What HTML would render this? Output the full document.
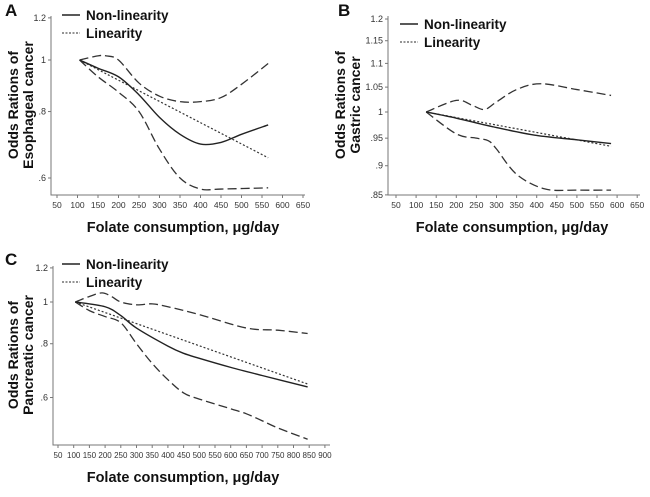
<!DOCTYPE html>
<html><head><meta charset="utf-8"><style>
body{margin:0;background:#fff;width:650px;height:492px;overflow:hidden;font-family:"Liberation Sans",Arial,sans-serif}
svg text{font-family:"Liberation Sans",Arial,sans-serif}
</style></head><body>
<svg id="s" width="650" height="492" xmlns="http://www.w3.org/2000/svg"></svg>
<script>
// Panel A data
const aX=[105,150,200,250,300,350,400,450,500,565];
const aNon=[1,0.965,0.93,0.86,0.78,0.725,0.695,0.7,0.725,0.755];
const aUpX=[105,150,170,200,250,300,350,400,450,500,565];
const aUp=[1,1.018,1.018,1.0,0.905,0.855,0.835,0.835,0.85,0.9,0.985];
const aLoX=[105,150,200,250,300,350,400,450,565];
const aLo=[1,0.93,0.87,0.8,0.68,0.6,0.572,0.572,0.575];
const aLinX=[105,565];const aLin=[1,0.655];
// Panel B data
const bX=[125,200,300,400,500,585];
const bNon=[1,0.988,0.97,0.955,0.947,0.94];
const bUpX=[125,200,240,270,300,350,410,500,585];
const bUp=[1,1.023,1.013,1.005,1.02,1.045,1.057,1.045,1.033];
const bLoX=[125,200,250,280,300,350,420,500,585];
const bLo=[1,0.958,0.95,0.945,0.93,0.885,0.86,0.858,0.858];
const bLinX=[125,585];const bLin=[1,0.935];
// Panel C data
const cX=[105,200,250,300,400,450,500,600,700,845];
const cNon=[1,0.975,0.93,0.87,0.79,0.76,0.74,0.705,0.675,0.635];
const cUpX=[105,150,190,220,250,300,350,400,500,650,750,845];
const cUp=[1,1.03,1.05,1.03,1.0,0.985,0.99,0.975,0.935,0.87,0.86,0.845];
const cLoX=[105,150,200,250,300,350,400,450,500,600,650,700,750,845];
const cLo=[1,0.955,0.925,0.895,0.8,0.72,0.66,0.615,0.595,0.565,0.55,0.53,0.51,0.48];
const cLinX=[105,845];const cLin=[1,0.645];
const aYt=[1.2,1,0.8,0.6],aYl=["1.2","1",".8",".6"];
const bYt=[1.2,1.15,1.1,1.05,1,0.95,0.9,0.85],bYl=["1.2","1.15","1.1","1.05","1",".95",".9",".85"];
const cYt=[1.2,1,0.8,0.6],cYl=["1.2","1",".8",".6"];
const aXt=[50,100,150,200,250,300,350,400,450,500,550,600,650];
const cXt=[50,100,150,200,250,300,350,400,450,500,550,600,650,700,750,800,850,900];

const S=document.getElementById('s');const NS="http://www.w3.org/2000/svg";
function el(t,a,p){const e=document.createElementNS(NS,t);for(const k in a)e.setAttribute(k,a[k]);(p||S).appendChild(e);return e;}
function smooth(pts){let d="M"+pts[0][0]+","+pts[0][1];for(let i=0;i<pts.length-1;i++){const p0=pts[i-1]||pts[i],p1=pts[i],p2=pts[i+1],p3=pts[i+2]||p2;
d+=" C"+(p1[0]+(p2[0]-p0[0])/6)+","+(p1[1]+(p2[1]-p0[1])/6)+" "+(p2[0]-(p3[0]-p1[0])/6)+","+(p2[1]-(p3[1]-p1[1])/6)+" "+p2[0]+","+p2[1];}return d;}
function panel(P){
 const g=el('g',{});
 const X=v=>P.x0+(v-50)*P.xs, Y=v=>P.y1+P.k*Math.log(1/v);
 const ax=el('path',{d:`M${P.ax},${P.top} V${P.bot} H${P.right}`,stroke:'#777',fill:'none','stroke-width':1},g);
 
 P.yt.forEach((v,i)=>{el('line',{x1:P.ax-3,x2:P.ax,y1:Y(v),y2:Y(v),stroke:'#777'},g);
  const t=el('text',{x:P.ax-5,y:Y(v)+3,'text-anchor':'end','font-size':9,fill:'#333'},g);t.textContent=P.yl[i];
  });
 P.xt.forEach(v=>{el('line',{x1:X(v),x2:X(v),y1:P.bot,y2:P.bot+3,stroke:'#777'},g);
  const t=el('text',{x:X(v),y:P.bot+13,'text-anchor':'middle','font-size':P.xf,fill:'#333'},g);t.textContent=v;
  });
 const line=(xs,ys,st,nm)=>{const p=el('path',Object.assign({d:smooth(xs.map((x,i)=>[X(x),Y(ys[i])])),fill:'none'},st),g);
  };
 line(P.upX,P.up,{stroke:'#333','stroke-width':1.3,'stroke-dasharray':'9,4'},'upper-ci-line');
 line(P.loX,P.lo,{stroke:'#333','stroke-width':1.3,'stroke-dasharray':'9,4'},'lower-ci-line');
 line(P.linX,P.lin,{stroke:'#333','stroke-width':1.2,'stroke-dasharray':'2,2'},'linearity-line');
 line(P.nx,P.non,{stroke:'#222','stroke-width':1.4},'non-linearity-line');
 const L=P.leg;
 el('line',{x1:L[0],x2:L[0]+18,y1:L[1],y2:L[1],stroke:'#222','stroke-width':1.4},g);
 el('line',{x1:L[0],x2:L[0]+18,y1:L[1]+18,y2:L[1]+18,stroke:'#555','stroke-width':1.2,'stroke-dasharray':'2,1.5'},g);
 let t=el('text',{x:L[0]+24,y:L[1]+5,'font-size':13.5,'font-weight':'bold',fill:'#111'},g);t.textContent='Non-linearity';
 
 t=el('text',{x:L[0]+24,y:L[1]+23,'font-size':13.5,'font-weight':'bold',fill:'#111'},g);t.textContent='Linearity';
 
 t=el('text',{x:P.lab[0],y:P.lab[1],'font-size':17,'font-weight':'bold',fill:'#111'},g);t.textContent=P.id;
 
 t=el('text',{x:P.xtc,y:P.bot+37,'text-anchor':'middle','font-size':14.5,'font-weight':'bold',fill:'#111'},g);t.textContent='Folate consumption, μg/day';
 
 const yt=el('text',{transform:`translate(${P.ytx},${P.ytc}) rotate(-90)`,'text-anchor':'middle','font-size':14,'font-weight':'bold',fill:'#111'},g);
 
 el('tspan',{x:0,y:0},yt).textContent='Odds Rations of';el('tspan',{x:0,y:15},yt).textContent=P.yname;
}
panel({id:'A',x0:57,xs:20.5/50,y1:60,k:231,ax:51,top:16,bot:195,right:305,yt:aYt,yl:aYl,xt:aXt,xf:8.5,
 nx:aX,non:aNon,upX:aUpX,up:aUp,loX:aLoX,lo:aLo,linX:aLinX,lin:aLinX&&aLin,leg:[62,15],lab:[5,16],xtc:183,ytx:18,ytc:105,yname:'Esophageal cancer'});
panel({id:'B',x0:396,xs:20.1/50,y1:112,k:510,ax:388,top:16,bot:195,right:640,yt:bYt,yl:bYl,xt:aXt,xf:8.5,
 nx:bX,non:bNon,upX:bUpX,up:bUp,loX:bLoX,lo:bLo,linX:bLinX,lin:bLin,leg:[400,24],lab:[338,16],xtc:512,ytx:345,ytc:105,yname:'Gastric cancer'});
panel({id:'C',x0:58,xs:15.7/50,y1:302,k:187,ax:53,top:266,bot:445,right:330,yt:cYt,yl:cYl,xt:cXt,xf:8,
 nx:cX,non:cNon,upX:cUpX,up:cUp,loX:cLoX,lo:cLo,linX:cLinX,lin:cLin,leg:[62,264],lab:[5,265],xtc:183,ytx:18,ytc:355,yname:'Pancreatic cancer'});
</script>
</body></html>
